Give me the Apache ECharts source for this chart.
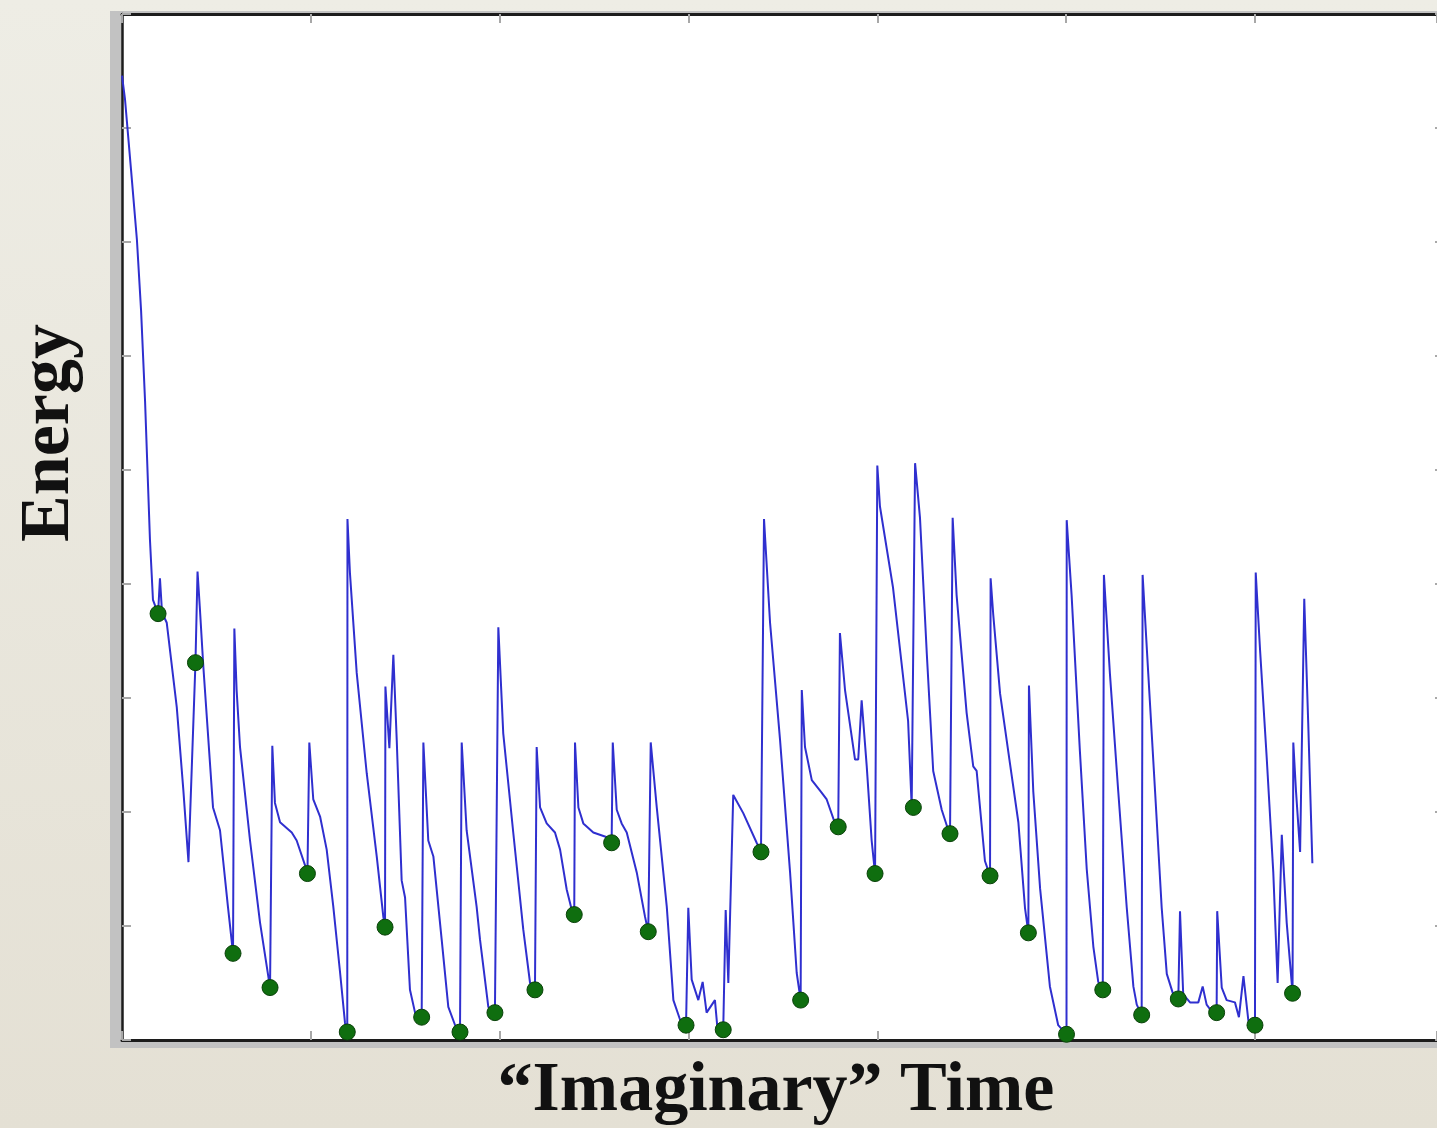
<!DOCTYPE html>
<html>
<head>
<meta charset="utf-8">
<title>Energy vs Imaginary Time</title>
<script src="https://cdn.jsdelivr.net/npm/echarts@6/dist/echarts.min.js"></script>
<style>
  html, body { margin: 0; padding: 0; background: #ebe9df; }
  #chart { width: 1437px; height: 1128px; }
</style>
</head>
<body>
<div id="chart"></div>
<script>
// Energy trace over imaginary time (x in time units, y in energy units)
const traceTime = [
  0.00, 0.16, 0.48, 0.79, 1.01, 1.22, 1.48, 1.64, 1.91, 2.01, 2.12, 2.37, 2.90, 3.25, 3.52,
  3.89, 4.00, 4.13, 4.31, 4.82, 5.19, 5.61, 5.88, 5.95, 6.07, 6.25, 6.78, 7.31, 7.84, 7.96,
  8.10, 8.37, 8.99, 9.25, 9.78, 9.82, 9.92, 10.13, 10.49, 10.84, 11.19, 11.55, 11.81, 11.93, 11.94,
  12.07, 12.43, 12.96, 13.49, 13.84, 13.93, 13.95, 14.16, 14.37, 14.55, 14.81, 14.99, 15.25, 15.52, 15.87,
  15.96, 16.22, 16.49, 16.93, 17.28, 17.73, 17.90, 17.99, 18.25, 18.78, 18.96, 19.40, 19.75, 19.93, 20.19,
  20.72, 21.25, 21.61, 21.87, 21.96, 22.14, 22.49, 22.93, 23.20, 23.55, 23.82, 23.95, 23.99, 24.17, 24.43,
  24.96, 25.84, 25.93, 25.99, 26.20, 26.46, 26.73, 27.26, 27.70, 27.87, 28.00, 28.32, 28.85, 29.20, 29.55,
  29.87, 29.99, 30.17, 30.52, 30.75, 30.96, 31.40, 31.53, 31.84, 31.97, 32.11, 32.37, 32.90, 33.61, 33.84,
  34.00, 34.32, 34.85, 35.38, 35.73, 35.94, 36.00, 36.17, 36.53, 37.05, 37.32, 37.76, 37.93, 38.02, 38.29,
  38.82, 38.99, 39.17, 39.44, 39.70, 39.88, 40.00, 40.14, 40.83, 41.63, 41.82, 41.91, 42.00, 42.26, 42.62,
  42.96, 43.41, 43.76, 43.85, 43.99, 44.20, 44.73, 45.08, 45.26, 45.70, 45.97, 46.00, 46.14, 46.50, 47.03,
  47.47, 47.82, 48.00, 48.03, 48.26, 48.62, 49.14, 49.58, 50.02, 50.03, 50.29, 50.73, 51.09, 51.44, 51.70,
  51.94, 52.00, 52.32, 52.76, 53.21, 53.56, 53.74, 54.00, 54.05, 54.35, 54.71, 55.06, 55.33, 55.67, 55.94,
  56.03, 56.20, 56.56, 57.00, 57.23, 57.44, 57.71, 57.97, 58.00, 58.24, 58.50, 58.94, 59.15, 59.39, 59.65,
  60.00, 60.04, 60.27, 60.62, 60.97, 61.20, 61.42, 61.68, 61.99, 62.03, 62.17, 62.39, 62.61, 62.82, 63.04
];
const traceEnergy = [
  8.46, 8.25, 7.63, 7.02, 6.40, 5.61, 4.39, 3.86, 3.74, 4.05, 3.75, 3.66, 2.92, 2.19, 1.56,
  3.31, 4.11, 3.77, 3.27, 2.04, 1.84, 1.17, 0.76, 3.61, 3.07, 2.57, 1.75, 1.03, 0.46, 2.58,
  2.08, 1.91, 1.82, 1.75, 1.49, 1.46, 2.61, 2.11, 1.96, 1.67, 1.17, 0.59, 0.15, 0.07, 4.57,
  4.10, 3.22, 2.34, 1.61, 1.08, 0.99, 3.10, 2.56, 3.38, 2.63, 1.40, 1.25, 0.44, 0.24, 0.20,
  2.61, 1.75, 1.61, 0.88, 0.29, 0.09, 0.07, 2.61, 1.84, 1.17, 0.88, 0.29, 0.24, 3.62, 2.69,
  1.82, 0.97, 0.50, 0.44, 2.57, 2.04, 1.90, 1.82, 1.67, 1.32, 1.14, 1.10, 2.61, 2.04, 1.90,
  1.82, 1.77, 1.73, 2.61, 2.02, 1.90, 1.82, 1.47, 1.08, 0.95, 2.61, 2.04, 1.17, 0.35, 0.18,
  0.13, 1.16, 0.53, 0.35, 0.51, 0.24, 0.35, 0.11, 0.09, 1.14, 0.50, 2.15, 1.99, 1.73, 1.65,
  4.57, 3.66, 2.63, 1.47, 0.59, 0.35, 3.07, 2.57, 2.28, 2.17, 2.11, 1.90, 1.87, 3.57, 3.07,
  2.46, 2.46, 2.98, 2.40, 1.75, 1.46, 5.04, 4.68, 3.97, 2.80, 2.05, 2.04, 5.06, 4.58, 3.39,
  2.36, 2.02, 1.84, 1.81, 4.58, 3.90, 2.87, 2.40, 2.36, 1.57, 1.44, 4.05, 3.73, 3.04, 2.42,
  1.91, 1.16, 0.94, 3.11, 2.18, 1.33, 0.47, 0.13, 0.05, 4.56, 3.90, 2.53, 1.50, 0.82, 0.51,
  0.44, 4.08, 3.21, 2.18, 1.16, 0.47, 0.31, 0.22, 4.08, 3.21, 2.18, 1.16, 0.58, 0.40, 0.36,
  1.13, 0.40, 0.33, 0.33, 0.47, 0.31, 0.25, 0.24, 1.13, 0.46, 0.35, 0.33, 0.20, 0.56, 0.17,
  0.13, 4.10, 3.42, 2.48, 1.47, 0.50, 1.80, 1.03, 0.41, 2.61, 2.19, 1.65, 3.87, 2.78, 1.55
];

// Marked states along the trace (green dots)
const markTime = [
  1.91, 3.89, 5.88, 7.84, 9.82, 11.93, 13.93, 15.87, 17.90, 19.75, 21.87, 23.95, 25.93, 27.87, 29.87,
  31.84, 33.84, 35.94, 37.93, 39.88, 41.91, 43.85, 45.97, 48.00, 50.02, 51.94, 54.00, 55.94, 57.97, 60.00,
  61.99
];
const markEnergy = [
  3.74, 3.31, 0.76, 0.46, 1.46, 0.07, 0.99, 0.20, 0.07, 0.24, 0.44, 1.10, 1.73, 0.95, 0.13,
  0.09, 1.65, 0.35, 1.87, 1.46, 2.04, 1.81, 1.44, 0.94, 0.05, 0.44, 0.22, 0.36, 0.24, 0.13,
  0.41
];

// Axis ranges and tick spacing; the time axis runs a little past the visible edge
const timeRange = [0, 69.64];
const timeTickStep = 10;
const energyRange = [0, 9];
const energyTickStep = 1;

const xTitle = '\u201CImaginary\u201D Time';
const yTitle = 'Energy';

const traceData = traceTime.map((t, i) => [t, traceEnergy[i]]);
const markData = markTime.map((t, i) => [t, markEnergy[i]]);

const innerTick = { show: true, inside: true, length: 9, lineStyle: { color: '#a8a8a8', width: 2 } };
const serifFont = '"Liberation Serif", "Times New Roman", serif';

function timeAxis(position) {
  return {
    type: 'value', position: position,
    min: timeRange[0], max: timeRange[1], interval: timeTickStep,
    axisLine: { show: true, onZero: false, lineStyle: { color: '#1c1c1c', width: 3 } },
    axisTick: innerTick,
    axisLabel: { show: false }, splitLine: { show: false }
  };
}
function energyAxis(position, offset) {
  return {
    type: 'value', position: position, offset: offset,
    min: energyRange[0], max: energyRange[1], interval: energyTickStep,
    axisLine: { show: true, onZero: false, lineStyle: { color: '#1c1c1c', width: 2.5 } },
    axisTick: innerTick,
    axisLabel: { show: false }, splitLine: { show: false }
  };
}

const chart = echarts.init(document.getElementById('chart'), null, { renderer: 'canvas' });
chart.setOption({
  animation: false,
  backgroundColor: {
    type: 'linear', x: 0, y: 0, x2: 0, y2: 1,
    colorStops: [{ offset: 0, color: '#eeede5' }, { offset: 1, color: '#e4e0d4' }]
  },
  grid: {
    left: 122, top: 14, right: 0, bottom: 88,
    show: true, backgroundColor: '#ffffff', borderWidth: 0
  },
  graphic: [
    {
      type: 'rect', z: -1, silent: true,
      shape: { x: 110, y: 11, width: 1340, height: 1037 },
      style: { fill: '#c2c2c2' }
    },
    {
      type: 'text', x: 50, y: 433, rotation: Math.PI / 2, silent: true,
      style: {
        text: yTitle, fill: '#111', font: 'bold 70px ' + serifFont,
        align: 'center', verticalAlign: 'middle'
      }
    },
    {
      type: 'text', x: 776, y: 1092, silent: true,
      style: {
        text: xTitle, fill: '#111', font: 'bold 70px ' + serifFont,
        align: 'center', verticalAlign: 'middle'
      }
    }
  ],
  xAxis: [timeAxis('bottom'), timeAxis('top')],
  yAxis: [energyAxis('left', 0), energyAxis('right', 7)],
  series: [
    {
      name: 'Energy', type: 'line', data: traceData,
      xAxisIndex: 0, yAxisIndex: 0,
      showSymbol: false, smooth: false,
      lineStyle: { color: '#2f2fcf', width: 2 },
      z: 2
    },
    {
      name: 'Marked states', type: 'scatter', data: markData,
      xAxisIndex: 0, yAxisIndex: 0,
      symbol: 'circle', symbolSize: 16,
      itemStyle: { color: '#0f6e0f', borderColor: '#0a420a', borderWidth: 1, opacity: 1 },
      z: 3
    }
  ]
});
</script>
</body>
</html>
